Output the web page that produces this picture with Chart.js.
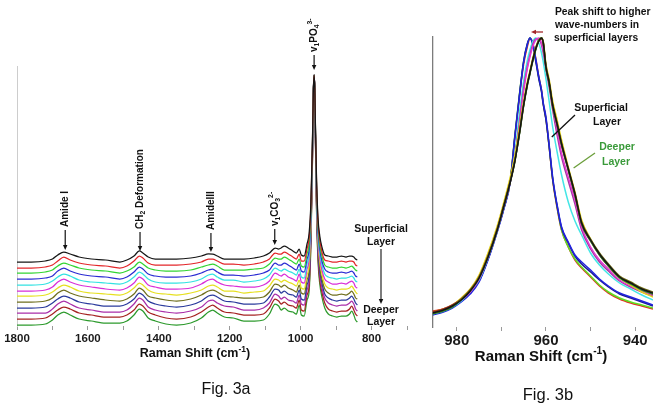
<!DOCTYPE html>
<html><head><meta charset="utf-8">
<script src="https://cdn.jsdelivr.net/npm/chart.js@4.4.1/dist/chart.umd.min.js"></script>
<style>
html,body{margin:0;padding:0;background:#fff;}
#wrap{position:relative;width:662px;height:407px;overflow:hidden;background:#fff;}
#ca{position:absolute;left:0;top:0;}
#cb{position:absolute;left:420px;top:0;}
</style></head><body>
<div id="wrap"><canvas id="ca" width="420" height="407"></canvas><canvas id="cb" width="242" height="407"></canvas></div>
<script>
// ---------- Fig. 3a data (Raman shift, cm-1) ----------
const wavenumbersA = [1800,1760,1720,1700,1685,1668,1650,1625,1590,1550,1510,1490,1470,1455,1445,1430,1410,1380,1350,1310,1280,1260,1248,1235,1215,1190,1160,1130,1105,1088,1072,1062,1055,1046,1035,1022,1012,1004,998,990,982,976,971,967,964,962,960,958,955,951,946,940,932,922,910,898,885,872,862,856,850,845,840];
const layerA01 = [64,64,65,67,71,74,72,69,67,66,64,66,70,75,73,69,67,67,67,68,70,72,72,70,67,67,67,68,70,73,78,77,78,80,78,75,73,77,71,70,82,93,124,179,237,251,237,196,145,108,90,79,71,70,69,69,70,69,70,70,69,67,66];
const layerA02 = [58,58,59,61,65,69,66,63,61,60,58,60,65,70,68,63,61,61,61,62,64,67,67,65,62,62,61,62,64,67,73,72,72,74,72,69,67,72,65,65,77,88,120,177,237,251,237,194,142,104,86,74,66,65,64,64,65,64,65,65,64,61,60];
const layerA03 = [53,53,54,56,60,63,61,58,56,55,53,55,59,64,62,58,56,55,55,56,59,61,62,60,56,56,56,57,58,62,68,67,67,69,67,64,62,67,60,59,72,82,116,175,236,251,236,193,139,100,81,70,61,59,58,58,59,58,59,60,58,56,55];
const layerA04 = [47,47,48,50,55,58,55,52,50,49,47,49,54,59,57,52,50,49,49,50,53,56,57,54,51,51,50,51,53,56,63,61,61,63,61,58,56,62,55,54,67,77,113,172,236,251,236,191,136,96,77,65,57,54,53,53,54,53,54,55,53,50,49];
const layerA05 = [41,41,42,45,49,52,50,46,44,43,42,44,49,54,52,47,44,43,43,44,47,51,52,49,46,46,44,45,47,51,58,56,55,57,55,53,51,57,49,48,62,72,109,170,235,251,235,190,133,92,73,61,52,49,48,47,48,48,49,50,48,45,44];
const layerA06 = [35,35,36,39,44,47,44,41,39,37,36,38,43,49,47,41,39,37,37,38,42,46,47,44,41,40,39,39,41,45,53,51,50,52,49,47,45,52,44,43,57,67,105,168,235,251,235,188,130,88,68,56,47,44,42,42,43,42,44,45,43,39,38];
const layerA07 = [30,30,31,34,38,41,39,35,33,32,31,33,38,43,41,36,33,32,31,33,36,40,41,39,35,35,33,34,35,40,47,46,44,46,44,42,40,46,38,37,51,61,101,166,234,251,234,187,127,85,64,52,42,38,37,36,37,37,38,40,37,34,32];
const layerA08 = [24,24,25,28,33,36,33,30,28,26,25,27,32,38,36,30,28,26,25,27,31,35,36,34,30,29,28,28,29,34,42,41,39,41,38,36,34,41,33,32,46,56,97,164,234,251,234,185,124,81,59,47,37,33,31,31,32,31,33,35,32,28,27];
const layerA09 = [18,18,19,23,27,30,28,24,22,20,20,22,27,33,31,25,22,20,19,21,25,30,31,29,25,24,22,22,23,29,37,36,33,35,32,31,29,36,27,26,41,51,93,162,233,251,233,184,121,77,55,43,32,28,26,25,26,26,28,30,27,23,21];
const layerA10 = [13,13,13,17,22,25,22,18,16,14,14,16,22,28,26,19,16,14,13,15,19,25,26,23,20,19,16,16,18,23,32,30,27,29,26,25,23,31,22,21,36,46,90,159,233,251,233,182,118,73,51,38,28,23,21,20,21,21,23,25,22,17,15];
const layerA11 = [7,7,8,12,16,19,17,13,11,9,9,11,16,22,20,14,11,8,7,9,14,19,21,18,14,13,11,11,12,18,27,25,22,24,21,20,18,26,16,15,31,40,86,157,232,251,232,181,115,69,46,34,23,17,15,14,15,15,17,20,16,12,10];
const layerA12 = [1,1,2,6,11,14,11,7,5,3,3,5,11,17,15,8,5,2,1,3,8,14,16,13,9,8,5,5,6,12,22,20,16,18,15,14,12,21,11,10,26,35,82,155,232,251,232,179,112,65,42,29,18,12,10,9,10,10,12,15,11,6,4];
const tickLabelsA = [1800,1600,1400,1200,1000,800];

// ---------- Fig. 3b data ----------
const wavenumbersB = [985.4,983,981,979,977,975,973,971,969.5,968,967,966,965,964.2,963.6,963,962.3,961.6,961,960.6,960,959.3,958.5,957.5,956.5,955,953.5,952,950,948,946,943.5,941,938.5,936];
const peakBlack   = [14,17,21,27,36,49,70,96,120,145,165,192,222,242,254,266,278,286,289,284,260,245,222,203,183,158,133,104,87,73,62,50,44,38,34];
const peakOlive   = [14,17,21,28,37,50,71,97,121,146,166,193,223,243,255,267,279,287,289,285,261,246,223,204,184,159,134,105,88,74,63,51,45,39,35];
const peakGreen   = [13,16,20,27,36,49,70,96,120,145,165,191,221,241,253,265,277,286,289,284,259,244,221,202,182,157,132,103,86,72,61,49,43,37,33];
const peakDarkRed = [15,18,22,28,37,50,71,97,121,146,166,192,222,242,254,266,278,286,288,283,259,244,221,202,182,157,132,103,86,72,61,50,44,38,33];
const peakYellow  = [15,18,22,29,38,52,74,100,124,150,171,198,226,245,256,268,279,287,289,285,263,248,226,207,187,160,135,107,88,73,61,49,42,35,30];
const peakMagenta = [14,17,21,27,35,48,70,96,120,145,168,200,236,258,270,280,287,289,284,277,262,244,222,197,174,150,127,100,80,67,58,47,41,36,32];
const peakPurple  = [14,17,21,27,35,48,70,96,120,145,169,203,239,260,272,282,288,288,282,274,258,240,217,192,170,146,123,97,78,65,56,46,40,35,31];
const peakCyan    = [13,16,20,26,35,47,69,95,119,145,172,212,246,266,277,285,289,284,274,265,248,226,200,175,152,125,106,92,74,62,53,44,38,32,27];
const peakBlue    = [12,15,19,25,33,45,67,94,117,145,189,229,265,282,289,284,268,250,237,224,210,183,150,122,100,85,72,65,57,48,41,34,30,26,22];
const peakNavy    = [13,16,20,26,34,46,68,95,118,146,190,230,266,283,289,283,266,248,235,222,207,181,148,121,99,84,71,63,55,47,40,33,29,25,21];
const peakLime    = [14,17,21,27,35,47,69,96,119,147,191,231,266,282,289,284,267,249,236,223,208,181,148,120,97,80,68,60,51,42,35,29,25,22,19];
const peakRed     = [16,18,21,27,35,47,68,95,118,146,188,228,263,280,288,285,269,250,237,223,208,181,147,119,97,80,67,59,50,41,34,28,24,21,18];
const tickLabelsB = [980,960,940];

// ---------- styles ----------
const FONT = "'Liberation Sans', Arial, Helvetica, sans-serif";
const seriesA = [layerA01,layerA02,layerA03,layerA04,layerA05,layerA06,layerA07,layerA08,layerA09,layerA10,layerA11,layerA12];
const colorsA = ['#161616','#e3262a','#33d433','#2b2bd2','#33e2e2','#d82ed8','#e6e020','#6f6f1e','#2a3a9c','#a92ea9','#a52222','#2c9a2c'];
const seriesB = [peakBlack,peakOlive,peakGreen,peakDarkRed,peakYellow,peakMagenta,peakPurple,peakCyan,peakBlue,peakNavy,peakLime,peakRed];
const colorsB = ['#141414','#6e6e16','#2a8a2a','#a02222','#e2d21a','#e23ad2','#a236a2','#44e6e6','#2222de','#1c1c8e','#5ee022','#e52a22'];

function pts(xs, ys){ return xs.map((x,i)=>({x:x, y:ys[i]})); }

function partFont(p, size, weight){
  const s = p.s ? size*0.68 : size;
  return `${weight} ${s}px ${FONT}`;
}
function richWidth(ctx, parts, size, weight){
  let w = 0;
  parts.forEach(p=>{ ctx.font = partFont(p,size,weight); w += ctx.measureText(p.t).width; });
  return w;
}
function drawRich(ctx, parts, x, y, size, weight){
  ctx.textAlign = 'left'; ctx.textBaseline = 'middle';
  let cx = x;
  parts.forEach(p=>{
    ctx.font = partFont(p,size,weight);
    let dy = 0;
    if (p.s === 'sub') dy = size*0.32;
    if (p.s === 'sup') dy = -size*0.38;
    ctx.fillText(p.t, cx, y+dy);
    cx += ctx.measureText(p.t).width;
  });
}
function drawArrow(ctx, x1, y1, x2, y2, color, lw, head){
  ctx.save();
  ctx.strokeStyle = color; ctx.fillStyle = color; ctx.lineWidth = lw;
  const ang = Math.atan2(y2-y1, x2-x1);
  const hx = x2 - Math.cos(ang)*head, hy = y2 - Math.sin(ang)*head;
  ctx.beginPath(); ctx.moveTo(x1,y1); ctx.lineTo(hx,hy); ctx.stroke();
  ctx.beginPath();
  ctx.moveTo(x2,y2);
  ctx.lineTo(hx + Math.sin(ang)*head*0.45, hy - Math.cos(ang)*head*0.45);
  ctx.lineTo(hx - Math.sin(ang)*head*0.45, hy + Math.cos(ang)*head*0.45);
  ctx.closePath(); ctx.fill();
  ctx.restore();
}
function drawLine(ctx, x1,y1,x2,y2,color,lw){
  ctx.save(); ctx.strokeStyle=color; ctx.lineWidth=lw;
  ctx.beginPath(); ctx.moveTo(x1,y1); ctx.lineTo(x2,y2); ctx.stroke(); ctx.restore();
}

// ---------- annotations (in data coordinates) ----------
const annotationsA = [
  {parts:[{t:'Amide I'}], wn:1664, tip:76, len:20},
  {parts:[{t:'CH'},{t:'2',s:'sub'},{t:' Deformation'}], wn:1453, tip:75, len:19},
  {parts:[{t:'AmideIII'}], wn:1253, tip:74, len:19},
  {parts:[{t:'v'},{t:'1',s:'sub'},{t:'CO'},{t:'3',s:'sub'},{t:'2-',s:'sup'}], wn:1073, tip:81, len:16},
  {parts:[{t:'v'},{t:'1',s:'sub'},{t:'PO'},{t:'4',s:'sub'},{t:'3-',s:'sup'}], wn:962, tip:256, len:15}
];
const titleParts = [{t:'Raman Shift (cm'},{t:'-1',s:'sup'},{t:')'}];

const pluginA = {
  id:'annA',
  afterDraw(chart){
    const ctx = chart.ctx, xs = chart.scales.x, ys = chart.scales.y;
    ctx.save();
    ctx.fillStyle = '#111';
    annotationsA.forEach(a=>{
      const px = xs.getPixelForValue(a.wn), tipY = ys.getPixelForValue(a.tip);
      const startY = tipY - a.len;
      drawArrow(ctx, px, startY, px, tipY, '#111', 1.2, 5);
      ctx.save(); ctx.translate(px, startY-3); ctx.rotate(-Math.PI/2);
      ctx.fillStyle = '#111';
      drawRich(ctx, a.parts, 0, 0, 10, 'bold');
      ctx.restore();
    });
    ctx.fillStyle = '#111'; ctx.textAlign='center'; ctx.textBaseline='middle';
    ctx.font = `bold 10.5px ${FONT}`;
    ctx.fillText('Superficial', 381, 229);
    ctx.fillText('Layer', 381, 242);
    ctx.fillText('Deeper', 381, 310);
    ctx.fillText('Layer', 381, 322);
    drawArrow(ctx, 381, 249, 381, 304, '#111', 1.1, 5);
    ctx.fillStyle = '#111';
    const tw = richWidth(ctx, titleParts, 12.5, 'bold');
    drawRich(ctx, titleParts, 195 - tw/2, 354, 12.5, 'bold');
    ctx.textAlign='center'; ctx.textBaseline='middle';
    ctx.font = `16px ${FONT}`;
    ctx.fillText('Fig. 3a', 226, 390);
    ctx.restore();
  }
};

const pluginB = {
  id:'annB',
  afterDraw(chart){
    const ctx = chart.ctx, xs = chart.scales.x, ys = chart.scales.y;
    ctx.save();
    ctx.fillStyle = '#111'; ctx.textAlign='left'; ctx.textBaseline='middle';
    ctx.font = `bold 10.3px ${FONT}`;
    ctx.fillText('Peak shift to higher', 135, 12);
    ctx.fillText('wave-numbers in', 135, 25);
    ctx.fillText('superficial layers', 134, 38);
    drawArrow(ctx, 123, 32, 111, 32, '#a3282a', 1.3, 5);
    ctx.textAlign='center';
    ctx.font = `bold 10.5px ${FONT}`;
    ctx.fillStyle = '#111';
    ctx.fillText('Superficial', 181, 108);
    ctx.fillText('Layer', 187, 122);
    const sx = xs.getPixelForValue(958.7), sy = ys.getPixelForValue(190);
    drawLine(ctx, 155, 115, sx, sy, '#111', 1.3);
    ctx.fillStyle = '#3a9a3a';
    ctx.fillText('Deeper', 197, 147);
    ctx.fillText('Layer', 196, 162);
    const dx = xs.getPixelForValue(953.8), dy = ys.getPixelForValue(159);
    drawLine(ctx, 175, 153, dx, dy, '#6b9e3a', 1.3);
    ctx.fillStyle = '#111';
    const tw = richWidth(ctx, titleParts, 15, 'bold');
    drawRich(ctx, titleParts, 121 - tw/2, 357, 15, 'bold');
    ctx.textAlign='center'; ctx.textBaseline='middle';
    ctx.font = `16.5px ${FONT}`;
    ctx.fillText('Fig. 3b', 128, 395);
    ctx.restore();
  }
};

Chart.defaults.font.family = FONT;

new Chart(document.getElementById('ca'), {
  type:'line',
  data:{ datasets: seriesA.map((s,i)=>({
    data: pts(wavenumbersA, s), borderColor: colorsA[i], borderWidth: 1.25,
    pointRadius: 0, fill:false, cubicInterpolationMode:'monotone'
  }))},
  options:{
    responsive:false, animation:false, events:[],
    layout:{autoPadding:false, padding:{left:17, right:13, top:66, bottom:0}},
    plugins:{legend:{display:false}, tooltip:{enabled:false}},
    scales:{
      x:{ type:'linear', min:700, max:1800, reverse:true,
          afterFit:(sc)=>{ sc.height = 81; },
          border:{display:false},
          grid:{display:true, drawOnChartArea:false, drawTicks:true, tickLength:4, color:'#9a9a9a'},
          ticks:{ stepSize:100, autoSkip:false, maxRotation:0, padding:2, color:'#1a1a1a',
                  font:{size:11.5, weight:'bold'},
                  callback:(v)=> tickLabelsA.includes(v) ? String(v) : '' } },
      y:{ type:'linear', min:0, max:260,
          afterFit:(sc)=>{ sc.width = 0; },
          border:{display:true, color:'#cdcdcd', width:1},
          grid:{display:false}, ticks:{display:false} }
    }
  },
  plugins:[pluginA]
});

new Chart(document.getElementById('cb'), {
  type:'line',
  data:{ datasets: seriesB.map((s,i)=>({
    data: pts(wavenumbersB, s), borderColor: colorsB[i], borderWidth: 1.5,
    pointRadius: 0, fill:false, cubicInterpolationMode:'monotone'
  }))},
  options:{
    responsive:false, animation:false, events:[],
    layout:{autoPadding:false, padding:{left:12.7, right:9, top:37, bottom:0}},
    plugins:{legend:{display:false}, tooltip:{enabled:false}},
    scales:{
      x:{ type:'linear', min:936, max:985.4, reverse:true,
          afterFit:(sc)=>{ sc.height = 80; },
          border:{display:false},
          grid:{display:true, drawOnChartArea:false, drawTicks:true, tickLength:4, color:'#9a9a9a'},
          ticks:{ stepSize:10, includeBounds:false, autoSkip:false, maxRotation:0, padding:1, color:'#1a1a1a',
                  font:{size:15, weight:'bold'},
                  callback:(v)=> tickLabelsB.includes(v) ? String(v) : '' } },
      y:{ type:'linear', min:0, max:290,
          afterFit:(sc)=>{ sc.width = 0; },
          border:{display:true, color:'#7c7c7c', width:1.3},
          grid:{display:false}, ticks:{display:false} }
    }
  },
  plugins:[pluginB]
});
</script>
</body></html>
